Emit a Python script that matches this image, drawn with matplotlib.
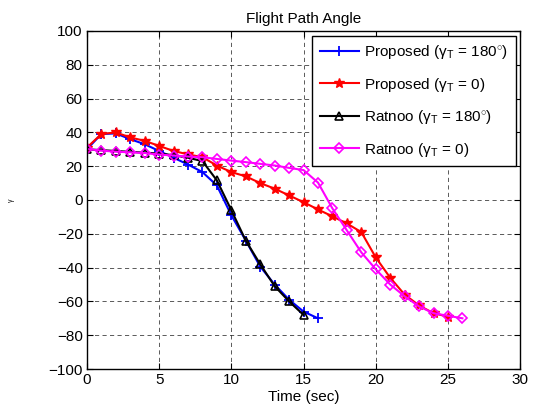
import matplotlib
matplotlib.use("Agg")
import matplotlib.pyplot as plt
import numpy as np

plt.rcParams['font.family'] = ['Liberation Sans', 'DejaVu Sans']
plt.rcParams['mathtext.fontset'] = 'custom'
plt.rcParams['mathtext.rm'] = 'Liberation Sans'
plt.rcParams['mathtext.it'] = 'Liberation Sans'

# Data (time in sec, angle in deg)
t_prop180 = [0, 1, 2, 3, 4, 5, 6, 7, 8, 9, 10, 11, 12, 13, 14, 15, 16]
g_prop180 = [30, 39, 39.4, 36, 33, 29, 25, 21, 16.5, 8.6, -9, -24, -39.4, -50, -59, -66, -70]

t_prop0 = [0, 1, 2, 3, 4, 5, 6, 7, 8, 9, 10, 11, 12, 13, 14, 15, 16, 17, 18, 19, 20, 21, 22, 23, 24, 25]
g_prop0 = [31, 39, 40, 37, 35, 32, 29, 27, 25.3, 20.4, 16.5, 14, 10, 6.7, 2.7, -1.3, -5.6, -9.7, -13.9, -19, -34, -46, -56, -62.4, -67, -69]

t_rat180 = [0, 1, 2, 3, 4, 5, 6, 7, 8, 9, 10, 11, 12, 13, 14, 15]
g_rat180 = [30, 29.5, 29, 28.5, 28, 27.5, 26.5, 25, 23, 11.6, -6, -24, -38, -51, -60, -68]

t_rat0 = [0, 1, 2, 3, 4, 5, 6, 7, 8, 9, 10, 11, 12, 13, 14, 15, 16, 17, 18, 19, 20, 21, 22, 23, 24, 25, 26]
g_rat0 = [30.2, 29.2, 28.6, 28.2, 27.8, 26.9, 26.3, 25.7, 25.3, 24.3, 23.3, 22.4, 21.4, 20.4, 19, 17.7, 10.3, -5, -18, -31, -41, -50, -57, -63, -67, -68.5, -70]

labels = ['Proposed (γ$_\\mathrm{T}$ = 180$^{\\circ}$)',
          'Proposed (γ$_\\mathrm{T}$ = 0)',
          'Ratnoo (γ$_\\mathrm{T}$ = 180$^{\\circ}$)',
          'Ratnoo (γ$_\\mathrm{T}$ = 0)']

fig = plt.figure(figsize=(5.33, 4.13), dpi=100)
ax = fig.add_axes([0.163, 0.1065, 0.813, 0.8185])

ax.plot(t_prop180, g_prop180, color='#0000ff', marker='+', ms=7, mew=1.3, lw=1.5, label=labels[0])
ax.plot(t_prop0, g_prop0, color='#ff0000', marker='*', ms=7, mew=1.0, lw=1.5, label=labels[1])
ax.plot(t_rat180, g_rat180, color='black', marker='^', ms=6, mfc='none', mew=1.2, lw=1.5, label=labels[2])
ax.plot(t_rat0, g_rat0, color='#ff00ff', marker='D', ms=5.5, mfc='none', mew=1.2, lw=1.5, label=labels[3])

ax.set_xlim(0, 30)
ax.set_ylim(-100, 100)
ax.set_xticks(np.arange(0, 31, 5))
ax.set_yticks(np.arange(-100, 101, 20))
ax.tick_params(direction='in', top=True, right=True, labelsize=11, length=4, pad=3)
ax.grid(True, color='black', linestyle=(0, (5, 4)), linewidth=0.6, alpha=0.75)
for s in ax.spines.values():
    s.set_linewidth(1.0)

ax.set_title('Flight Path Angle', fontsize=11, pad=6)
ax.set_xlabel('Time (sec)', fontsize=11, labelpad=2)
ax.set_ylabel('γ', fontsize=5, labelpad=24)

leg = ax.legend(loc='upper right', fontsize=11, fancybox=False, framealpha=1,
                edgecolor='black', borderaxespad=0.3, handlelength=2.6,
                handletextpad=0.3, labelspacing=0.95, borderpad=0.5)
leg.get_frame().set_linewidth(1.0)

fig.savefig('out.png', dpi=100)
